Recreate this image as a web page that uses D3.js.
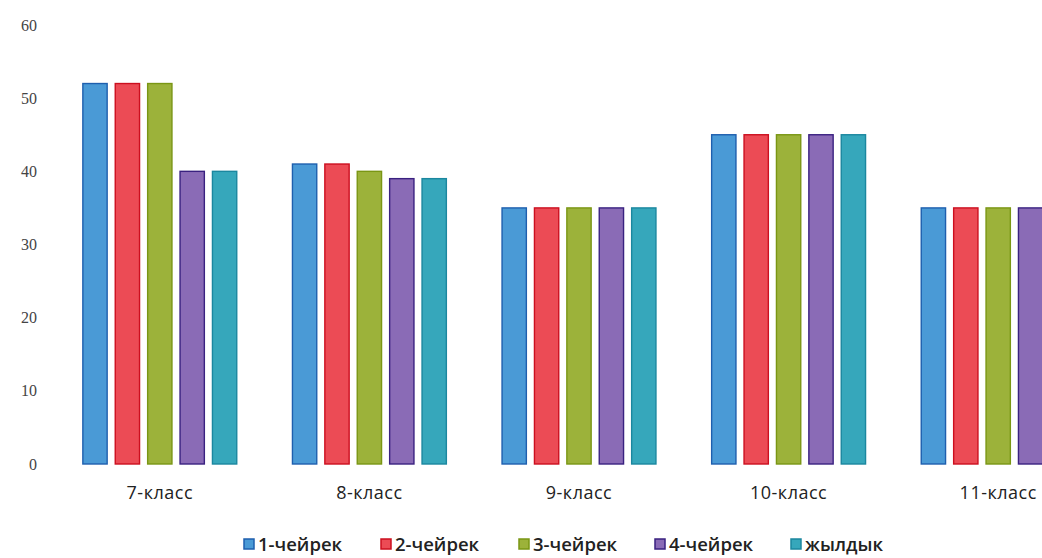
<!DOCTYPE html>
<html>
<head>
<meta charset="utf-8">
<script src="https://cdn.jsdelivr.net/npm/d3@7"></script>
<style>
  html, body { margin: 0; padding: 0; background: #fff; overflow: hidden; }
  svg { display: block; }
</style>
</head>
<body>
<svg id="chart" width="1042" height="558"></svg>
<script>
// Grades (categories) and quarter results per series
const categories = ["7-класс", "8-класс", "9-класс", "10-класс", "11-класс"];
const seriesNames = ["1-чейрек", "2-чейрек", "3-чейрек", "4-чейрек", "жылдык"];
const q1 = [52, 41, 35, 45, 35];
const q2 = [52, 41, 35, 45, 35];
const q3 = [52, 40, 35, 45, 35];
const q4 = [40, 39, 35, 45, 35];
const year = [40, 39, 35, 45, 35];
const yTicks = [0, 10, 20, 30, 40, 50, 60];

const seriesValues = [q1, q2, q3, q4, year];
const fills = ["#4a9ad6", "#ec4b55", "#9cb23a", "#8a6bb6", "#36a7bb"];
const strokes = ["#1e5fae", "#cc0f1f", "#7a9614", "#3a2180", "#1b879f"];

const svg = d3.select("#chart");

const y = d3.scaleLinear().domain([0, 60]).range([464, 25]);
const x0 = d3.scaleBand().domain(categories).range([55, 1103]).padding(0);
const x1 = d3.scaleBand().domain(seriesNames)
  .range([x0.bandwidth() / 2 - 81, x0.bandwidth() / 2 + 81])
  .paddingInner(0.25).paddingOuter(0.125);

// Y axis labels only (no line, no gridlines)
const yAxis = d3.axisLeft(y).tickValues(yTicks).tickSize(0).tickPadding(0);
const gy = svg.append("g").attr("transform", "translate(37,0)").call(yAxis);
gy.select(".domain").remove();
gy.selectAll("text")
  .attr("font-family", "'Liberation Serif', 'DejaVu Serif', serif")
  .attr("font-size", 16)
  .attr("fill", "#444");

// Grouped bars
const groups = svg.append("g").selectAll("g")
  .data(categories)
  .join("g")
  .attr("transform", d => `translate(${x0(d)},0)`);

groups.selectAll("rect")
  .data((c, ci) => seriesNames.map((s, si) => ({ s, si, v: seriesValues[si][ci] })))
  .join("rect")
  .attr("x", d => x1(d.s))
  .attr("y", d => y(d.v))
  .attr("width", x1.bandwidth())
  .attr("height", d => y(0) - y(d.v))
  .attr("fill", d => fills[d.si])
  .attr("stroke", d => strokes[d.si])
  .attr("stroke-width", 1.4);

// Category axis labels
const xAxis = d3.axisBottom(x0).tickSize(0).tickPadding(0);
const gx = svg.append("g").attr("transform", "translate(0,486)").call(xAxis);
gx.select(".domain").remove();
gx.selectAll("text")
  .attr("font-family", "'Open Sans', 'Liberation Sans', sans-serif")
  .attr("font-size", 18)
  .attr("letter-spacing", 0.5)
  .attr("fill", "#222");

// Legend
const legendX = [244, 381, 519, 655, 791];
const legend = svg.append("g").selectAll("g")
  .data(seriesNames)
  .join("g")
  .attr("transform", (d, i) => `translate(${legendX[i]},0)`);
legend.append("rect")
  .attr("x", 0).attr("y", 539)
  .attr("width", 10).attr("height", 10)
  .attr("fill", (d, i) => fills[i])
  .attr("stroke", (d, i) => strokes[i])
  .attr("stroke-width", 1.5);
legend.append("text")
  .attr("x", 14).attr("y", 551)
  .attr("font-family", "'Open Sans', 'Liberation Sans', sans-serif")
  .attr("font-size", 18.5)
  .attr("font-weight", 600)
  .attr("fill", "#222")
  .text(d => d);
</script>
</body>
</html>
